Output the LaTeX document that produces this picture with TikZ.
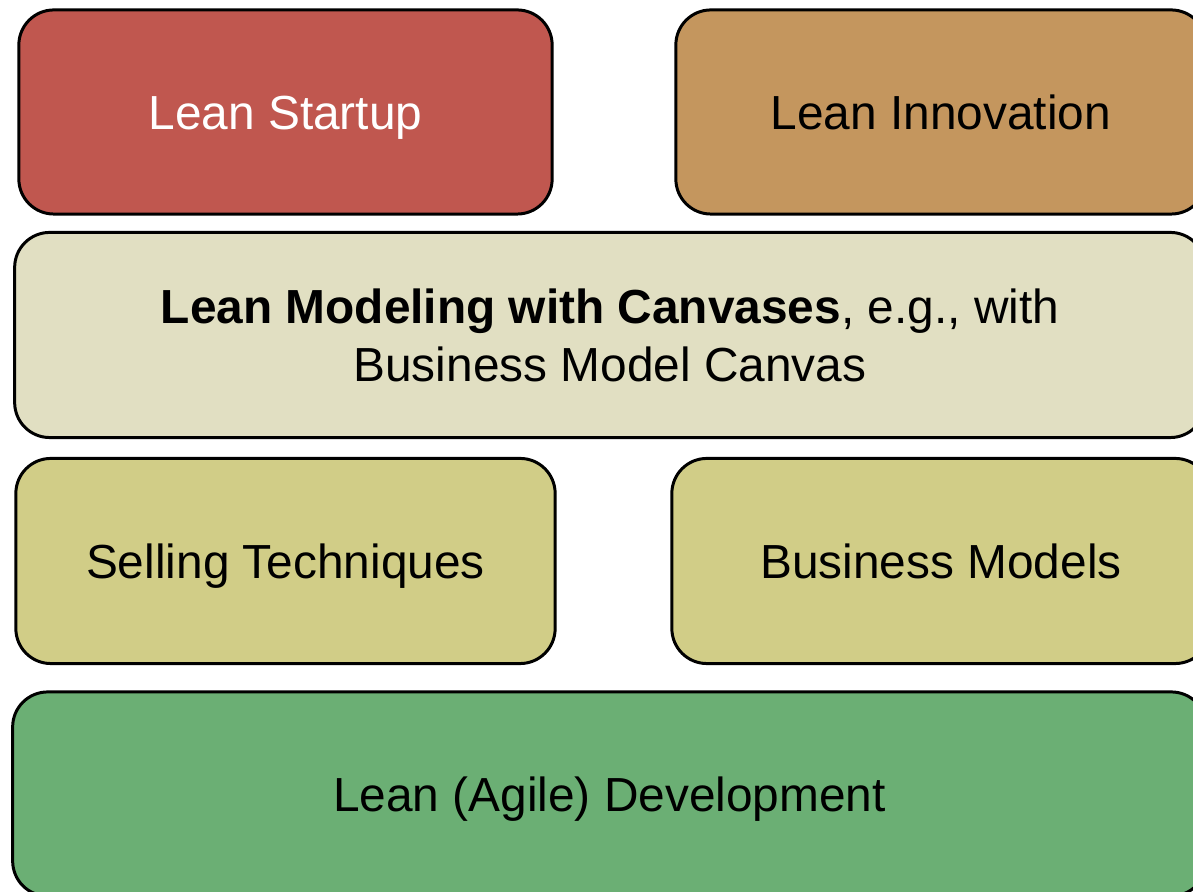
\documentclass[tikz,border=0pt]{standalone}
\usepackage{fontspec}
\setmainfont{Liberation Sans}
\definecolor{startupred}{RGB}{192,87,79}
\definecolor{innobrown}{RGB}{196,150,94}
\definecolor{canvasbeige}{RGB}{225,223,194}
\definecolor{techolive}{RGB}{209,205,135}
\definecolor{agilegreen}{RGB}{107,175,116}
\begin{document}
\begin{tikzpicture}
  [x=0.01cm,y=-0.01cm,
   every node/.style={draw=black,line width=0.85pt,rounded corners=0.35cm,
     align=center,inner sep=0pt,font=\fontsize{13.6}{16.5}\selectfont},
   oneline/.style={text height=1.02em,text depth=0pt}]
  \path[use as bounding box,clip] (0,0) rectangle (1193,892);
  \node[oneline,fill=startupred,text=white,minimum width=5.33cm,minimum height=2.04cm] (startup) at (285.5,112) {Lean Startup};
  \node[oneline,fill=innobrown,minimum width=5.30cm,minimum height=2.04cm] (innovation) at (941,112) {Lean Innovation};
  \node[fill=canvasbeige,minimum width=11.90cm,minimum height=2.05cm] (canvas) at (610,335) {\textbf{Lean Modeling with Canvases}, e.g., with\\Business Model Canvas};
  \node[oneline,fill=techolive,minimum width=5.39cm,minimum height=2.05cm] (selling) at (285.5,561) {Selling Techniques};
  \node[oneline,fill=techolive,minimum width=5.38cm,minimum height=2.05cm] (models) at (941,561) {Business Models};
  \node[oneline,fill=agilegreen,minimum width=11.93cm,minimum height=2.04cm] (agile) at (609.5,794) {Lean (Agile) Development};
\end{tikzpicture}
\end{document}
